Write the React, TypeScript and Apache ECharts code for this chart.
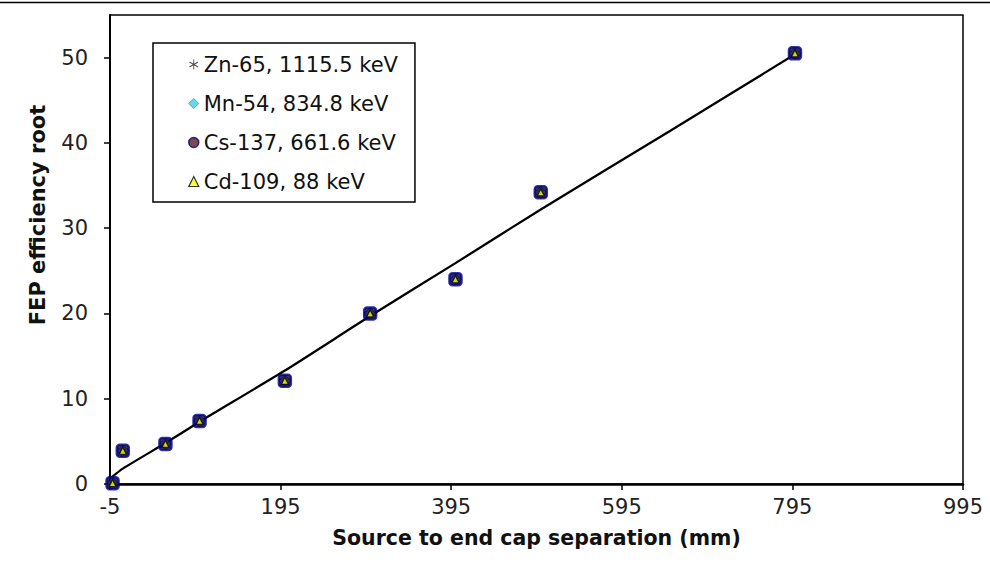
import React, { useEffect, useRef } from "react";
import * as echarts from "echarts";

// Source-to-end-cap separation (mm)
const separation = [-2, 10, 60, 100, 200, 300, 400, 500, 798];
// FEP efficiency root, per nuclide
const zn65 = [0.1, 3.9, 4.7, 7.4, 12.1, 20.0, 24.0, 34.2, 50.5];
const mn54 = [0.1, 3.9, 4.7, 7.4, 12.1, 20.0, 24.0, 34.2, 50.5];
const cs137 = [0.1, 3.9, 4.7, 7.4, 12.1, 20.0, 24.0, 34.2, 50.5];
const cd109 = [0.1, 3.9, 4.7, 7.4, 12.1, 20.0, 24.0, 34.2, 50.5];
// fitted curve
const fitX = [-3, 10, 60, 100, 200, 300, 400, 500, 650, 798];
const fitY = [0.8, 1.8, 4.8, 7.3, 13.3, 19.7, 25.9, 32.2, 41.3, 50.4];

const seriesNames = ["Zn-65, 1115.5 keV", "Mn-54, 834.8 keV", "Cs-137, 661.6 keV", "Cd-109, 88 keV"];
const xTickMin = -5;
const xTickMax = 995;
const xTickStep = 200;
const yMax = 55;
const yStep = 10;

const FONT = "DejaVu Sans";
const ASTERISK =
  "path://M-0.9,-10L0.9,-10L0.9,10L-0.9,10ZM8.21,-5.78L9.11,-4.22L-8.21,5.78L-9.11,4.22ZM9.11,4.22L8.21,5.78L-9.11,-4.22L-8.21,-5.78Z";

export default function App() {
  const ref = useRef<HTMLDivElement>(null);
  useEffect(() => {
    document.body.style.margin = "0";
    if (!ref.current) return;
    const chart = echarts.init(ref.current, null, { renderer: "svg" });
    const off = -xTickMin; // shift so axis min is a multiple of the interval
    const pts = (ys: number[]) => separation.map((x, i) => [x + off, ys[i]]);
    chart.setOption({
      animation: false,
      backgroundColor: "#fff",
      grid: {
        left: 110,
        right: 27,
        top: 15,
        bottom: 85,
        show: true,
        borderColor: "#000",
        borderWidth: 1.5,
        outerBoundsMode: "none",
      },
      xAxis: {
        type: "value",
        min: xTickMin + off,
        max: xTickMax + off,
        interval: xTickStep,
        splitLine: { show: false },
        axisLine: { show: true, lineStyle: { color: "#000", width: 2.5 } },
        axisTick: { show: true, inside: false, length: 6, lineStyle: { color: "#000", width: 1.5 } },
        axisLabel: {
          margin: 12,
          fontFamily: FONT,
          fontSize: 21,
          color: "#222",
          formatter: (v: number) => String(v - off),
        },
        name: "Source to end cap separation (mm)",
        nameLocation: "middle",
        nameGap: 43,
        nameTextStyle: { fontFamily: FONT, fontSize: 20.5, fontWeight: "bold", color: "#111" },
      },
      yAxis: {
        type: "value",
        min: 0,
        max: yMax,
        interval: yStep,
        splitLine: { show: false },
        axisLine: { show: true, lineStyle: { color: "#000", width: 2 } },
        axisTick: { show: true, inside: false, length: 6, lineStyle: { color: "#000", width: 1.5 } },
        axisLabel: {
          margin: 22,
          fontFamily: FONT,
          fontSize: 21,
          color: "#222",
          showMaxLabel: false,
          formatter: (v: number) => (v > 50 ? "" : String(v)),
        },
      },
      legend: {
        orient: "vertical",
        left: 153,
        top: 43,
        padding: [11, 17, 10, 35],
        itemGap: 18,
        itemWidth: 10,
        itemHeight: 10,
        itemTextGap: 11,
        selectedMode: false,
        backgroundColor: "#fff",
        borderColor: "#000",
        borderWidth: 1.5,
        textStyle: { fontFamily: FONT, fontSize: 21, color: "#111" },
        data: [
          { name: seriesNames[0], icon: ASTERISK, itemStyle: { color: "#222" } },
          { name: seriesNames[1], icon: "diamond", itemStyle: { color: "#3cd2e6", borderColor: "#3a8fd0", borderWidth: 1 } },
          { name: seriesNames[2], icon: "circle", itemStyle: { color: "#5a1e1e", borderColor: "#000080", borderWidth: 1.5 } },
          { name: seriesNames[3], icon: "triangle", itemStyle: { color: "#ffff00", borderColor: "#000", borderWidth: 1.2 } },
        ],
      },
      graphic: [
        {
          type: "line",
          shape: { x1: 0, y1: 2.5, x2: 990, y2: 2.5 },
          style: { stroke: "#000", lineWidth: 1.5 },
        },
        {
          type: "text",
          x: 38,
          y: 215,
          rotation: Math.PI / 2,
          style: {
            text: "FEP efficiency root",
            fontFamily: FONT,
            fontSize: 21,
            fontWeight: "bold",
            fill: "#111",
            textAlign: "center",
            textVerticalAlign: "middle",
            align: "center",
            verticalAlign: "middle",
          },
        },
      ],
      series: [
        {
          type: "line",
          name: "fit",
          data: fitX.map((x, i) => [x + off, fitY[i]]),
          symbol: "none",
          smooth: 0.2,
          lineStyle: { color: "#000", width: 2.3 },
          z: 1,
        },
        {
          type: "scatter",
          name: seriesNames[0],
          data: pts(zn65),
          symbol: ASTERISK,
          symbolSize: 10,
          itemStyle: { color: "#000" },
          z: 2,
        },
        {
          type: "scatter",
          name: seriesNames[1],
          data: pts(mn54),
          symbol: "diamond",
          symbolSize: 12,
          itemStyle: { color: "#3cd2e6", borderColor: "#000080", borderWidth: 1 },
          z: 3,
        },
        {
          type: "scatter",
          name: seriesNames[2],
          data: pts(cs137),
          symbol: "roundRect",
          symbolSize: [12, 12],
          itemStyle: { color: "#1a0a30", borderColor: "#000090", borderWidth: 2.5 },
          z: 4,
        },
        {
          type: "scatter",
          name: seriesNames[3],
          data: pts(cd109),
          symbol: "triangle",
          symbolSize: 7,
          itemStyle: { color: "#ffff00", borderColor: "#000", borderWidth: 1.2 },
          z: 5,
        },
      ],
    });
    return () => chart.dispose();
  }, []);
  return <div ref={ref} style={{ width: 990, height: 569 }} />;
}
